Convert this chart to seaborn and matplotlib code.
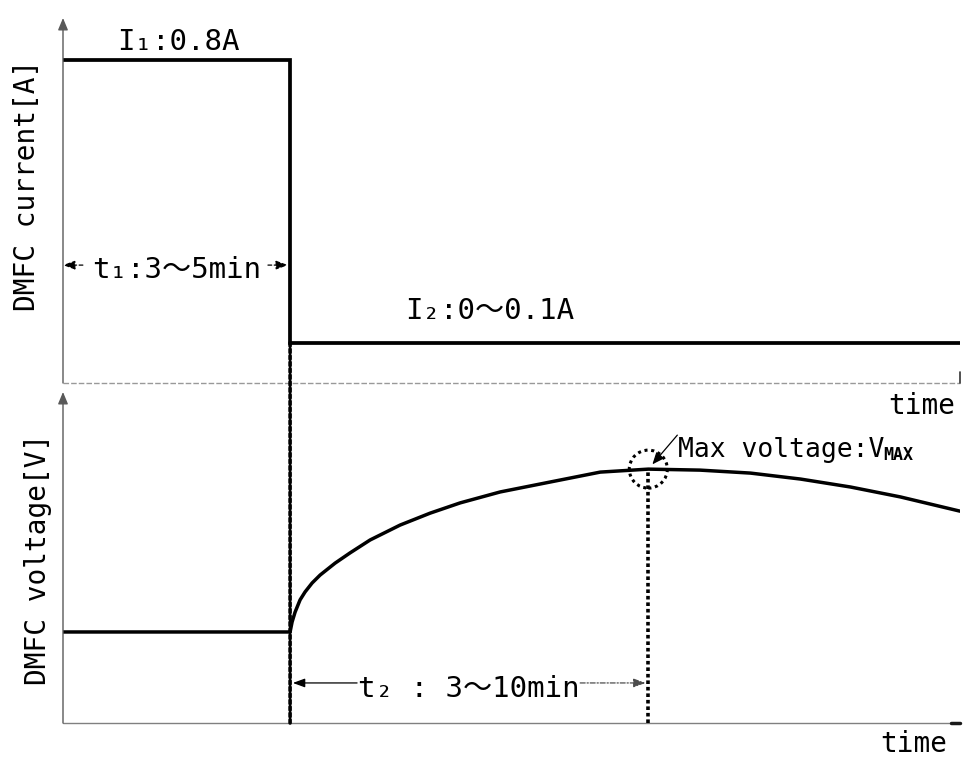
import numpy as np
import pandas as pd
import seaborn as sns
import matplotlib.pyplot as plt
from matplotlib.patches import Circle, ConnectionPatch
from matplotlib import transforms as mtransforms

# ---- operating profile (time in minutes) ----
t1_end = 4.0        # end of the high-current phase (t1 : 3~5 min)
t_vmax = 10.31      # moment the voltage peaks
t_end = 15.8

current_time = [0.0, t1_end, t1_end, t_end]
current_amp = [0.8, 0.8, 0.1, 0.1]          # I1 = 0.8 A, then I2 = 0~0.1 A

voltage_time = [0.0, 4.0, 4.035, 4.088, 4.176, 4.264, 4.388, 4.529, 4.793,
                5.057, 5.41, 5.938, 6.467, 6.996, 7.70, 8.58, 9.463, 10.31,
                11.22, 12.11, 12.99, 13.87, 14.75, 15.8]
voltage_rel = [0.275, 0.275, 0.305, 0.335, 0.372, 0.396, 0.423, 0.447, 0.483,
               0.514, 0.553, 0.598, 0.634, 0.665, 0.698, 0.728, 0.758, 0.767,
               0.764, 0.755, 0.737, 0.713, 0.683, 0.640]

label_i1 = "I₁:0.8A"
label_i2 = "I₂:0～0.1A"
label_t1 = "t₁:3～5min"
label_t2 = "t₂ : 3～10min"
label_vmax = "Max voltage:V"
label_vmax_sub = "MAX"
ylabel_i = "DMFC current[A]"
ylabel_v = "DMFC voltage[V]"
xlabel = "time"

sns.set_theme(style="white")
plt.rcParams["font.family"] = ["DejaVu Sans Mono", "Noto Sans CJK JP"]
plt.rcParams["text.color"] = "black"

W, H = 963, 758
fig = plt.figure(figsize=(W / 100, H / 100), dpi=100)
fig.patch.set_facecolor("white")


def fx(px):
    return px / W


def fy(py):
    return 1 - py / H


ax_i = fig.add_axes([fx(63), fy(383), fx(960) - fx(63), fy(18) - fy(383)])
ax_v = fig.add_axes([fx(63), fy(723), fx(960) - fx(63), fy(392) - fy(723)])

df_i = pd.DataFrame({"time": current_time, "current": current_amp})
df_v = pd.DataFrame({"time": voltage_time, "voltage": voltage_rel})

sns.lineplot(data=df_i, x="time", y="current", ax=ax_i, sort=False,
             estimator=None, color="black", lw=2.7, solid_joinstyle="miter")
sns.lineplot(data=df_v, x="time", y="voltage", ax=ax_v, sort=False,
             estimator=None, color="black", lw=2.5, solid_joinstyle="round")

ax_i.set_xlim(0, t_end)
ax_i.set_ylim(0, 0.904)
ax_v.set_xlim(0, t_end)
ax_v.set_ylim(0, 1.0)

for ax in (ax_i, ax_v):
    ax.set(xticks=[], yticks=[], xlabel="", ylabel="")
    for s in ax.spines.values():
        s.set_visible(False)
    ax.patch.set_alpha(0)
    # vertical axis with arrow head
    ax.annotate("", xy=(0, 1), xytext=(0, 0), xycoords="axes fraction",
                arrowprops=dict(arrowstyle="-|>,head_length=0.6,head_width=0.25",
                                color="0.35", lw=1.0, shrinkA=0, shrinkB=0))

# horizontal axes
ax_i.plot([0, 1], [0, 0], transform=ax_i.transAxes, color="0.6", lw=1.0,
          ls=(0, (4, 1.5)), clip_on=False)
ax_i.plot([1, 1], [0, 0.03], transform=ax_i.transAxes, color="0.2", lw=1.2,
          clip_on=False)
ax_v.plot([0, 1], [0, 0], transform=ax_v.transAxes, color="0.5", lw=1.0,
          clip_on=False)
ax_v.plot([0.99, 1], [0, 0], transform=ax_v.transAxes, color="0.1", lw=2.5,
          clip_on=False)

# dotted markers: end of t1 (spans both panels) and voltage peak
v_max = max(voltage_rel)
con = ConnectionPatch(xyA=(t1_end, current_amp[-1]), coordsA=ax_i.transData,
                      xyB=(t1_end, 0), coordsB=ax_v.transData,
                      color="black", lw=2.6, linestyle=(0, (1, 0.8)))
fig.add_artist(con)
ax_v.vlines(t_vmax, 0, v_max, color="black", lw=2.6, linestyle=(0, (1, 0.8)))

circ_tr = fig.dpi_scale_trans + mtransforms.ScaledTranslation(t_vmax, v_max, ax_v.transData)
ax_v.add_patch(Circle((0, 0), radius=0.19, transform=circ_tr, fill=False,
                      ec="black", lw=2.2, ls=(0, (1, 1.2)), clip_on=False))

# value labels
big = 21
ax_i.annotate(label_i1, xy=(t1_end / 2, current_amp[0]), xytext=(2, 10),
              textcoords="offset pixels", ha="center", va="baseline", fontsize=big)
ax_i.annotate(label_i2, xy=(7.52, current_amp[-1]), xytext=(0, 24),
              textcoords="offset pixels", ha="center", va="baseline", fontsize=big)

# t1 span
ax_i.text(t1_end / 2, 0.26, label_t1, ha="center", va="baseline", fontsize=big)
ax_i.annotate("", xy=(0, 0.292), xytext=(0.35, 0.292),
              arrowprops=dict(arrowstyle="-|>,head_length=0.6,head_width=0.22",
                              color="black", lw=0.9, ls=(0, (3, 2)),
                              shrinkA=0, shrinkB=0))
ax_i.annotate("", xy=(t1_end, 0.292), xytext=(3.61, 0.292),
              arrowprops=dict(arrowstyle="-|>,head_length=0.6,head_width=0.22",
                              color="black", lw=0.9, ls=(0, (3, 2)),
                              shrinkA=0, shrinkB=1.5))

# t2 span
ax_v.text((t1_end + t_vmax) / 2, 0.079, label_t2, ha="center", va="baseline",
          fontsize=big)
ax_v.annotate("", xy=(t1_end, 0.121), xytext=(5.18, 0.121),
              arrowprops=dict(arrowstyle="-|>,head_length=0.6,head_width=0.22",
                              color="black", lw=0.9, shrinkA=0, shrinkB=2))
ax_v.annotate("", xy=(t_vmax, 0.121), xytext=(9.11, 0.121),
              arrowprops=dict(arrowstyle="-|>,head_length=0.6,head_width=0.22",
                              color="0.3", lw=0.9, ls=(0, (4, 1.5, 1, 1.5)),
                              shrinkA=0, shrinkB=2))

# peak annotation
vtxt = ax_v.annotate(label_vmax, xy=(t_vmax, v_max), xytext=(30, 12),
                     textcoords="offset pixels", ha="left", va="baseline",
                     fontsize=19)
ax_v.annotate(label_vmax_sub, xy=(1, 0), xycoords=vtxt, xytext=(-1, -1),
              textcoords="offset pixels", ha="left", va="bottom",
              fontsize=12, fontweight="bold")
ax_v.annotate("", xy=(t_vmax, v_max), xytext=(29, 34), textcoords="offset pixels",
              arrowprops=dict(arrowstyle="-|>,head_length=0.6,head_width=0.25",
                              color="black", lw=0.9, shrinkA=0, shrinkB=4.5))

# axis titles
fig.text(fx(922), fy(414), xlabel, ha="center", va="baseline", fontsize=20)
fig.text(fx(914), fy(752), xlabel, ha="center", va="baseline", fontsize=20)
fig.text(fx(27), fy(185), ylabel_i, rotation=90, ha="center", va="center",
         fontsize=20)
fig.text(fx(38), fy(559), ylabel_v, rotation=90, ha="center", va="center",
         fontsize=20)

fig.savefig("out.png", dpi=100, facecolor="white")
